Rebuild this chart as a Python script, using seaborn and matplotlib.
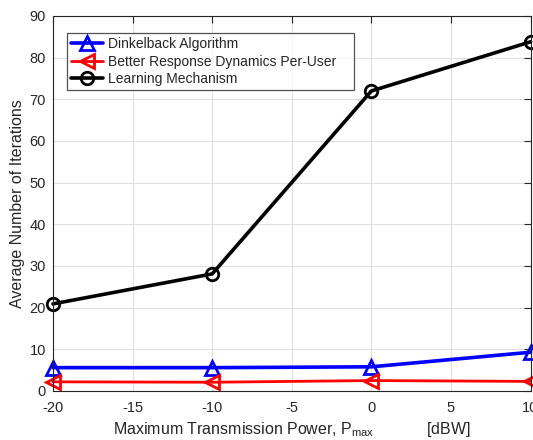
import pandas as pd
import matplotlib
matplotlib.use("Agg")
import matplotlib.pyplot as plt
import seaborn as sns

# ---------------- DATA ---------------- #

power_dbw = [-20, -10, 0, 10]
dinkelback = [5.6, 5.6, 5.8, 9.3]
better_response = [2.2, 2.1, 2.5, 2.3]
learning = [20.9, 28.1, 72.0, 83.8]

series_names = ["Dinkelback Algorithm",
                "Better Response Dynamics Per-User",
                "Learning Mechanism"]

# ---------------- STYLE ---------------- #

sns.set_theme(style="whitegrid")
plt.rcParams['font.family'] = ['Liberation Sans', 'DejaVu Sans']
plt.rcParams['mathtext.fontset'] = 'custom'
plt.rcParams['mathtext.rm'] = 'Liberation Sans'
plt.rcParams['axes.unicode_minus'] = False

df = pd.DataFrame({
    "power": power_dbw * 3,
    "iters": dinkelback + better_response + learning,
    "algo": [series_names[0]] * 4 + [series_names[1]] * 4 + [series_names[2]] * 4,
})

styles = {
    series_names[0]: dict(color="#0000ff", marker="^", lw=2.6, ms=10),
    series_names[1]: dict(color="#ff0000", marker="<", lw=2.0, ms=10),
    series_names[2]: dict(color="#000000", marker="o", lw=2.6, ms=9),
}

# ---------------- PLOT ---------------- #

fig = plt.figure(figsize=(5.33, 4.4), dpi=100)
ax = fig.add_axes([0.0994, 0.1114, 0.896, 0.8523])

for name in series_names:
    st = styles[name]
    sns.lineplot(data=df[df["algo"] == name], x="power", y="iters", ax=ax,
                 color=st["color"], marker=st["marker"], linewidth=st["lw"],
                 markersize=st["ms"], markerfacecolor="none", markeredgecolor=st["color"],
                 markeredgewidth=2.0, label=name, clip_on=False)

ax.set_xlim(-20, 10)
ax.set_ylim(0, 90)
ax.set_xticks([-20, -15, -10, -5, 0, 5, 10])
ax.set_yticks(range(0, 91, 10))

ax.grid(True, color="#e0e0e0", linewidth=0.8)
for sp in ax.spines.values():
    sp.set_color("#262626")
    sp.set_linewidth(0.8)
ax.tick_params(direction="in", length=5, width=0.8, colors="#262626",
               labelsize=10.5, top=True, right=True)
ax.tick_params(axis="x", pad=7)
ax.tick_params(axis="y", pad=5)

ax.set_xlabel("Maximum Transmission Power, P$_{\\mathrm{max}}$            [dBW]",
              fontsize=11.5, color="#262626", labelpad=4)
ax.set_ylabel("Average Number of Iterations", fontsize=11.5, color="#262626", labelpad=3)

leg = ax.legend(loc="upper left", bbox_to_anchor=(0.030, 0.80, 0.600, 0.1547),
                mode="expand", fontsize=10,
                frameon=True, fancybox=False, edgecolor="#262626",
                borderpad=0.3, labelspacing=0.25, handlelength=2.3,
                handletextpad=0.3, borderaxespad=0)
leg.get_frame().set_linewidth(0.9)

fig.savefig("out.png", dpi=100)
